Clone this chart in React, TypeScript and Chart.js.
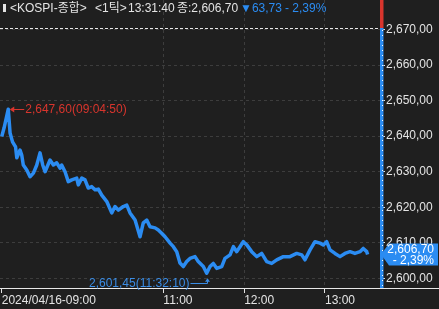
import React, { useEffect, useRef } from "react";
import { Chart, registerables } from "chart.js";

Chart.register(...registerables);

const SYMBOL = "KOSPI-종합";
const INTERVAL = "1틱";
const DATE_LABEL = "2024/04/16";
const PREV_CLOSE = 2670.43;

const TIMES = [
  "09:00:00", "09:01:42", "09:04:50", "09:06:10", "09:08:00", "09:10:15", "09:11:10", "09:13:35", "09:14:50", "09:16:00",
  "09:18:35", "09:21:00", "09:23:30", "09:26:00", "09:28:25", "09:30:25", "09:32:10", "09:35:50", "09:38:20", "09:40:50",
  "09:43:15", "09:44:30", "09:47:00", "09:49:25", "09:52:00", "09:55:40", "09:56:50", "09:59:25", "10:01:50", "10:04:15",
  "10:06:50", "10:09:15", "10:11:45", "10:14:15", "10:18:00", "10:21:40", "10:24:05", "10:26:35", "10:30:15", "10:32:50",
  "10:35:15", "10:39:00", "10:42:40", "10:45:05", "10:47:40", "10:50:05", "10:53:50", "10:56:15", "10:58:45", "11:01:15",
  "11:05:00", "11:07:25", "11:09:55", "11:12:20", "11:14:50", "11:17:20", "11:19:45", "11:23:30", "11:25:55", "11:29:40",
  "11:32:10", "11:34:40", "11:37:05", "11:39:35", "11:43:20", "11:45:45", "11:49:30", "11:52:00", "11:54:30", "11:56:55",
  "11:59:20", "12:01:55", "12:05:35", "12:09:20", "12:13:00", "12:16:45", "12:20:25", "12:24:10", "12:29:05", "12:34:00",
  "12:39:00", "12:42:45", "12:45:10", "12:48:55", "12:52:35", "12:56:20", "12:58:45", "13:01:15", "13:03:45", "13:07:25",
  "13:11:10", "13:14:50", "13:18:35", "13:22:15", "13:26:00", "13:28:25", "13:31:00", "13:31:40",
];

const PRICES = [
  2639.9, 2642.3, 2647.6, 2640.9, 2638.4, 2637.0, 2633.9, 2636.1, 2634.7, 2631.9,
  2630.5, 2628.6, 2629.6, 2631.9, 2635.3, 2631.9, 2630.0, 2633.3, 2631.9, 2632.5,
  2631.0, 2631.9, 2630.0, 2627.2, 2627.7, 2628.2, 2626.3, 2628.2, 2627.7, 2625.4,
  2625.8, 2624.9, 2625.1, 2623.4, 2621.6, 2618.4, 2620.2, 2619.2, 2620.2, 2620.6,
  2618.4, 2616.4, 2611.7, 2615.6, 2616.4, 2614.5, 2614.2, 2613.6, 2612.7, 2611.7,
  2609.9, 2608.9, 2607.5, 2604.3, 2603.3, 2604.7, 2605.6, 2606.1, 2604.7, 2603.3,
  2601.45, 2603.3, 2604.2, 2602.8, 2603.3, 2605.6, 2606.6, 2608.9, 2607.5, 2608.9,
  2610.3, 2609.4, 2607.5, 2606.1, 2607.0, 2604.7, 2604.2, 2605.2, 2606.1, 2606.1,
  2607.0, 2606.6, 2605.2, 2608.0, 2610.3, 2609.9, 2609.4, 2610.3, 2608.0, 2607.0,
  2606.1, 2607.0, 2607.5, 2607.0, 2607.5, 2608.4, 2607.5, 2606.7,
];

const Y_TICKS = [2600, 2610, 2620, 2630, 2640, 2650, 2660, 2670];
const X_TICK_MINUTES = [0, 120, 180, 240];

const BG = "#1f1f1f";
const GRID = "#3d3d3d";
const TEXT = "#e4e4e4";
const BLUE = "#2b8cf2";
const RED = "#d8352d";
const FONT = '"Liberation Sans", "Noto Sans CJK KR", sans-serif';

const toMin = (t: string) => {
  const [h, m, s] = t.split(":").map(Number);
  return (h - 9) * 60 + m + s / 60;
};
const pad = (n: number) => String(n).padStart(2, "0");
const minLabel = (v: number) => `${pad(9 + Math.floor(v / 60))}:${pad(Math.round(v % 60))}`;
const fmt = (v: number) => {
  const [i, d] = Math.abs(v).toFixed(2).split(".");
  return i.replace(/\B(?=(\d{3})+(?!\d))/g, ",") + "," + d;
};

export default function App() {
  const ref = useRef<HTMLCanvasElement>(null);

  useEffect(() => {
    document.body.style.margin = "0";
    document.body.style.background = BG;
    const xs = TIMES.map(toMin);
    const points = xs.map((x, i) => ({ x, y: PRICES[i] }));
    const last = PRICES[PRICES.length - 1];
    const change = last - PREV_CLOSE;
    const pct = (change / PREV_CLOSE) * 100;

    const overlay = {
      id: "overlay",
      beforeDatasetsDraw(chart: any) {
        const { ctx, chartArea, scales } = chart;
        const yp = scales.y.getPixelForValue(PREV_CLOSE);
        ctx.save();
        ctx.strokeStyle = "#e8e8e8";
        ctx.lineWidth = 1;
        ctx.setLineDash([3, 2]);
        ctx.beginPath();
        ctx.moveTo(chartArea.left, Math.round(yp) + 0.5);
        ctx.lineTo(chartArea.right, Math.round(yp) + 0.5);
        ctx.stroke();
        ctx.restore();
      },
      afterDraw(chart: any) {
        const { ctx, chartArea, scales, width } = chart;
        const xS = scales.x;
        const yS = scales.y;
        const yp = Math.round(yS.getPixelForValue(PREV_CLOSE));
        ctx.save();
        ctx.strokeStyle = "#e8e8e8";
        ctx.lineWidth = 1;
        ctx.beginPath();
        ctx.moveTo(0, chartArea.bottom + 0.5);
        ctx.lineTo(width, chartArea.bottom + 0.5);
        ctx.stroke();
        const bx = chartArea.right - 1;
        ctx.fillStyle = RED;
        ctx.fillRect(bx, 0, 3.5, yp);
        ctx.fillStyle = BLUE;
        ctx.fillRect(bx, yp, 3.5, chartArea.bottom - yp);
        ctx.strokeStyle = "#ffffff";
        ctx.setLineDash([1, 4]);
        ctx.beginPath();
        ctx.moveTo(bx + 2.5, yp + 2);
        ctx.lineTo(bx + 2.5, chartArea.bottom);
        ctx.stroke();
        ctx.setLineDash([]);

        ctx.font = `12px ${FONT}`;
        ctx.textBaseline = "middle";

        let iMax = 0, iMin = 0;
        PRICES.forEach((p, i) => {
          if (p > PRICES[iMax]) iMax = i;
          if (p < PRICES[iMin]) iMin = i;
        });
        const mx = xS.getPixelForValue(xs[iMax]);
        const my = Math.round(yS.getPixelForValue(PRICES[iMax])) + 0.5;
        ctx.strokeStyle = RED;
        ctx.fillStyle = RED;
        ctx.beginPath();
        ctx.moveTo(mx + 3, my);
        ctx.lineTo(mx + 16, my);
        ctx.stroke();
        ctx.beginPath();
        ctx.moveTo(mx + 1.5, my);
        ctx.lineTo(mx + 6, my - 3);
        ctx.lineTo(mx + 6, my + 3);
        ctx.closePath();
        ctx.fill();
        ctx.textAlign = "left";
        ctx.fillText(`${fmt(PRICES[iMax])}(${TIMES[iMax]})`, mx + 17, my);

        const nx = Math.round(xS.getPixelForValue(xs[iMin])) + 0.5;
        const ny = yS.getPixelForValue(PRICES[iMin]);
        const ly = Math.round(ny + 10) + 0.5;
        ctx.strokeStyle = "#3a8de6";
        ctx.fillStyle = "#3a8de6";
        ctx.beginPath();
        ctx.moveTo(nx - 17, ly);
        ctx.lineTo(nx, ly);
        ctx.lineTo(nx, ny + 7);
        ctx.stroke();
        ctx.beginPath();
        ctx.moveTo(nx, ny + 5);
        ctx.lineTo(nx - 2.5, ny + 8.5);
        ctx.lineTo(nx + 2.5, ny + 8.5);
        ctx.closePath();
        ctx.fill();
        ctx.textAlign = "right";
        ctx.fillText(`${fmt(PRICES[iMin])}(${TIMES[iMin]})`, nx - 18, ly);

        const lx = chartArea.right;
        const lyv = yS.getPixelForValue(last);
        ctx.fillStyle = BLUE;
        ctx.beginPath();
        ctx.moveTo(lx, lyv);
        ctx.lineTo(lx + 8, lyv - 11);
        ctx.lineTo(width - 1, lyv - 11);
        ctx.lineTo(width - 1, lyv + 11);
        ctx.lineTo(lx + 8, lyv + 11);
        ctx.closePath();
        ctx.fill();
        ctx.fillStyle = "#ffffff";
        ctx.textAlign = "right";
        ctx.fillText(fmt(last), width - 5, lyv - 5);
        ctx.fillText(`- ${fmt(pct)}%`, width - 5, lyv + 6);

        // header pieces
        ctx.fillStyle = TEXT;
        ctx.fillRect(3, 4, 3, 8);
        ctx.textAlign = "left";
        const hy = 8.5;
        ctx.fillText(`<${SYMBOL}>`, 10, hy);
        ctx.fillText(`<${INTERVAL}>`, 95, hy);
        ctx.fillText(TIMES[TIMES.length - 1], 128, hy);
        ctx.fillText(`종:${fmt(last)}`, 177, hy);
        ctx.fillStyle = BLUE;
        ctx.fillText(`${change < 0 ? "▼" : "▲"}${fmt(change)}`, 240, hy);
        ctx.fillText(`- ${fmt(pct)}%`, 285, hy);
        ctx.restore();
      },
    };

    const chart = new Chart(ref.current!, {
      type: "line",
      data: {
        datasets: [
          {
            data: points,
            borderColor: BLUE,
            borderWidth: 3.5,
            pointRadius: 0,
            tension: 0,
            borderJoinStyle: "round",
            fill: false,
          },
        ],
      },
      options: {
        responsive: false,
        animation: false,
        layout: { padding: 0 },
        plugins: { legend: { display: false }, tooltip: { enabled: false } },
        scales: {
          x: {
            type: "linear",
            position: "bottom",
            min: -1.3,
            max: 281.6,
            afterBuildTicks: (s: any) => {
              s.ticks = X_TICK_MINUTES.map((v) => ({ value: v }));
            },
            afterFit: (s: any) => {
              s.height = 21;
              s.paddingLeft = 0;
              s.paddingRight = 0;
            },
            ticks: {
              align: "start",
              autoSkip: false,
              maxRotation: 0,
              minRotation: 0,
              padding: 0,
              color: TEXT,
              font: { family: FONT, size: 12 },
              callback: (v: any) => (v === 0 ? `${DATE_LABEL}-${minLabel(v)}` : minLabel(v)),
            },
            grid: {
              color: (c: any) => (c.tick && c.tick.value === 0 ? "rgba(0,0,0,0)" : GRID),
              tickColor: TEXT,
              tickLength: 5,
              lineWidth: 1,
            },
            border: { display: false, dash: [3, 3] },
          },
          y: {
            type: "linear",
            position: "right",
            min: 2597.27,
            max: 2678.33,
            afterBuildTicks: (s: any) => {
              s.ticks = Y_TICKS.map((v) => ({ value: v }));
            },
            afterFit: (s: any) => {
              s.width = 58;
              s.paddingTop = 0;
              s.paddingBottom = 0;
            },
            ticks: {
              padding: 1,
              color: TEXT,
              font: { family: FONT, size: 12 },
              callback: (v: any) => fmt(v),
            },
            grid: { color: GRID, tickColor: TEXT, tickLength: 4, lineWidth: 1 },
            border: { display: false, dash: [3, 3] },
          },
        },
      },
      plugins: [overlay],
    } as any);
    return () => chart.destroy();
  }, []);

  return (
    <div style={{ width: 439, height: 309, background: BG }}>
      <canvas ref={ref} width={439} height={309} style={{ display: "block" }} />
    </div>
  );
}
